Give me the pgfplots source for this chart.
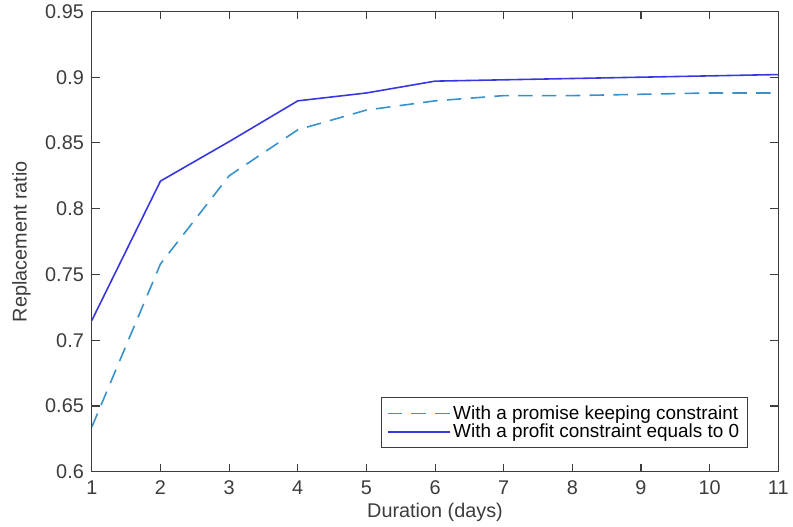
\documentclass[border=0pt]{standalone}
\usepackage{fontspec}
\setmainfont{Liberation Sans}
\usepackage{pgfplots}
\pgfplotsset{compat=1.18}
\definecolor{solidblue}{RGB}{55,55,225}
\definecolor{dashblue}{RGB}{55,145,205}
\definecolor{axgray}{RGB}{60,60,60}
\begin{document}
\begin{tikzpicture}
\begin{axis}[
    scale only axis,
    width=519pt, height=348pt,
    xmin=1, xmax=11, ymin=0.6, ymax=0.95,
    xtick={1,2,...,11},
    ytick={0.6,0.65,0.7,0.75,0.8,0.85,0.9,0.95},
    yticklabel style={/pgf/number format/fixed, /pgf/number format/precision=2, xshift=-2.5pt},
    xticklabel style={yshift=-3pt},
    /pgf/number format/assume math mode=true,
    tick align=inside,
    major tick length=6pt,
    axis line style={axgray, line width=0.9pt},
    tick style={axgray, line width=0.8pt},
    tick label style={font=\fontsize{15}{17}\selectfont, text=axgray},
    label style={font=\fontsize{15}{17}\selectfont, text=axgray},
    xlabel={Duration (days)},
    ylabel={Replacement ratio},
    ylabel shift=4pt,
    legend cell align=left,
    legend style={at={(0.955,0.052)}, anchor=south east, draw=axgray,
        font=\fontsize{14.3}{16}\selectfont, row sep=-2pt,
        inner xsep=4pt, inner ysep=4pt},
    legend image code/.code={\draw[#1] (0pt,0pt) -- (47pt,0pt);},
]
\addplot[dashblue, line width=1.2pt, dash pattern=on 11pt off 7pt] coordinates {
    (1,0.634) (2,0.758) (3,0.825) (4,0.860) (5,0.875) (6,0.882)
    (7,0.886) (8,0.886) (9,0.887) (10,0.888) (11,0.888)
};
\addplot[solidblue, line width=1.2pt] coordinates {
    (1,0.715) (2,0.821) (3,0.851) (4,0.882) (5,0.888) (6,0.897)
    (7,0.898) (8,0.899) (9,0.900) (10,0.901) (11,0.902)
};
\legend{With a promise keeping constraint, With a profit constraint equals to 0}
\end{axis}
% a little white room left of the y label, as in the reference
\path ([xshift=-6pt]current bounding box.west);
\end{tikzpicture}
\end{document}
